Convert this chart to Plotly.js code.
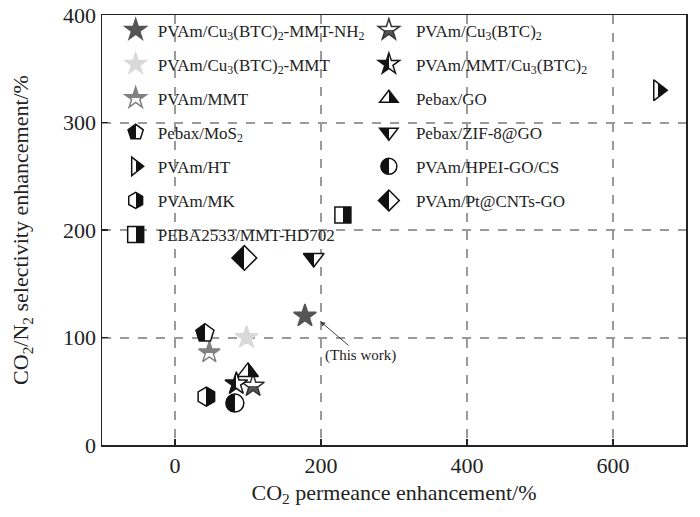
<!DOCTYPE html>
<html><head><meta charset="utf-8">
<script src="https://cdn.plot.ly/plotly-3.0.1.min.js"></script>
<style>body{margin:0;background:#fff}#chart{width:700px;height:517px}</style>
</head><body><div id="chart"></div>
<script>
// ---- data ----
const names = [
  "PVAm/Cu<sub>3</sub>(BTC)<sub>2</sub>-MMT-NH<sub>2</sub>",
  "PVAm/Cu<sub>3</sub>(BTC)<sub>2</sub>-MMT",
  "PVAm/MMT",
  "Pebax/MoS<sub>2</sub>",
  "PVAm/HT",
  "PVAm/MK",
  "PEBA2533/MMT-HD702",
  "PVAm/Cu<sub>3</sub>(BTC)<sub>2</sub>",
  "PVAm/MMT/Cu<sub>3</sub>(BTC)<sub>2</sub>",
  "Pebax/GO",
  "Pebax/ZIF-8@GO",
  "PVAm/HPEI-GO/CS",
  "PVAm/Pt@CNTs-GO"
];
const co2Permeance = [178, 98, 47, 41, 662, 43, 230, 107, 84, 100, 190, 82, 95];
const co2n2Selectivity = [120, 100, 86, 104, 330, 45, 214, 55, 57, 68, 174, 39, 174];
const xTicks = [0, 200, 400, 600];
const yTicks = [0, 100, 200, 300, 400];

// ---- styles ----
const symbols = ["star","star","star","pentagon","triangle-right","hexagon","square",
                 "star","star","triangle-up","triangle-down","circle","diamond"];
// fill split: 'none' solid, 'h' = left|right, 'v' = top|bottom
const splits = ["none","none","v","h","h","h","h","v","h","h","h","h","h"];
const colorA = ["#555555","#d9d9d9","#808080","#111111","#ffffff","#ffffff","#ffffff","#ffffff","#151515","#ffffff","#111111","#111111","#111111"]; // left / top
const colorB = ["#555555","#d9d9d9","#ffffff","#ffffff","#111111","#111111","#111111","#555555","#ffffff","#111111","#ffffff","#ffffff","#ffffff"]; // right / bottom
const lineColors = ["#555555","#d9d9d9","#808080","#111","#111","#111","#111","#333333","#151515","#111","#111","#111","#111"];
const sizes = [17,17,16,19,18,19,16,17,17,18,18,18,19];
const FONT = "Liberation Serif, Times New Roman, serif";

const traces = names.map((n, i) => {
  const marker = {symbol: symbols[i], size: sizes[i], line: {color: lineColors[i], width: 1.5}, color: colorA[i]};
  if (splits[i] === 'h') marker.gradient = {type: 'horizontal', color: colorB[i]};
  if (splits[i] === 'v') marker.gradient = {type: 'vertical', color: colorB[i]};
  return {
    type: 'scatter', mode: 'markers', name: n,
    x: [co2Permeance[i]], y: [co2n2Selectivity[i]],
    marker: marker,
    legend: i < 7 ? 'legend' : 'legend2',
    legendgroup: 'g' + i,
    cliponaxis: false
  };
});

const gridStyle = {showgrid: true, gridcolor: '#9a9a9a', gridwidth: 2, griddash: 'dash'};
const legendCommon = {bgcolor: 'rgba(0,0,0,0)', font: {family: FONT, size: 17, color: '#222'},
                      tracegroupgap: 9, xanchor: 'left', yanchor: 'top', itemsizing: 'trace'};

const layout = {
  width: 700, height: 517,
  margin: {l: 102, r: 14, t: 12, b: 72},
  paper_bgcolor: '#fff', plot_bgcolor: '#fff',
  font: {family: FONT, color: '#222'},
  showlegend: true,
  xaxis: Object.assign({
    range: [-100, 700], tickvals: xTicks, ticktext: xTicks.map(String),
    ticks: 'inside', ticklen: 6, tickcolor: '#222', tickwidth: 1.5,
    showline: true, linecolor: '#222', linewidth: 1.5, mirror: true, zeroline: false,
    tickfont: {family: FONT, size: 22, color: '#222'},
    title: {text: 'CO<sub>2</sub> permeance enhancement/%', font: {family: FONT, size: 22, color: '#222'}, standoff: 7}
  }, gridStyle),
  yaxis: Object.assign({
    range: [0, 400], tickvals: yTicks, ticktext: yTicks.map(String),
    ticks: 'inside', ticklen: 6, tickcolor: '#222', tickwidth: 1.5,
    showline: true, linecolor: '#222', linewidth: 1.5, mirror: true, zeroline: false,
    tickfont: {family: FONT, size: 22, color: '#222'},
    title: {text: 'CO<sub>2</sub>/N<sub>2</sub> selectivity enhancement/%', font: {family: FONT, size: 22, color: '#222'}, standoff: 28}
  }, gridStyle),
  legend: Object.assign({x: 0.02, y: 1.006, itemwidth: 34}, legendCommon),
  legend2: Object.assign({x: 0.445, y: 1.006, itemwidth: 44}, legendCommon),
  annotations: [{
    x: 199, y: 115, xref: 'x', yref: 'y',
    text: '(This work)', showarrow: true, arrowhead: 2, arrowsize: 1, arrowwidth: 1,
    arrowcolor: '#444', ax: 40, ay: 34,
    font: {family: FONT, size: 15, color: '#222'}
  }]
};

function num(v, d) {
  if (v === null || v === '') return d;
  return String(v).indexOf('%') >= 0 ? parseFloat(v) / 100 : parseFloat(v);
}

Plotly.newPlot('chart', traces, layout, {displayModeBar: false, staticPlot: true}).then(() => {
  // turn each gradient into a sharp two-colour fill split at the marker centre
  const boxFor = {};
  document.querySelectorAll('#chart path').forEach(p => {
    const fill = (p.getAttribute('style') || '') + ' ' + (p.getAttribute('fill') || '');
    const m = fill.match(/url\(["']?#([^"')]+)/);
    if (!m) return;
    try { const bb = p.getBBox(); if (bb.width > 0) boxFor[m[1]] = bb; } catch (e) {}
  });
  document.querySelectorAll('#chart linearGradient').forEach(g => {
    const stops = g.querySelectorAll('stop');
    if (stops.length < 2) return;
    const x1 = num(g.getAttribute('x1'), 0), x2 = num(g.getAttribute('x2'), 1);
    const y1 = num(g.getAttribute('y1'), 0), y2 = num(g.getAttribute('y2'), 0);
    const bb = boxFor[g.id];
    let split = 0.5;
    if (bb) {
      if (x1 !== x2) { split = -bb.x / bb.width; if (x1 > x2) split = 1 - split; }
      else { split = -bb.y / bb.height; if (y1 > y2) split = 1 - split; }
      split = Math.min(0.9, Math.max(0.1, split));
    }
    const a = stops[0], b = stops[stops.length - 1];
    const ca = a.getAttribute('stop-color'), cb = b.getAttribute('stop-color');
    const oa = a.getAttribute('stop-opacity'), ob = b.getAttribute('stop-opacity');
    while (g.firstChild) g.removeChild(g.firstChild);
    const ns = 'http://www.w3.org/2000/svg';
    [[0, ca, oa], [split, ca, oa], [split, cb, ob], [1, cb, ob]].forEach(([o, c, op]) => {
      const s = document.createElementNS(ns, 'stop');
      s.setAttribute('offset', (o * 100).toFixed(2) + '%');
      s.setAttribute('stop-color', c);
      if (op !== null) s.setAttribute('stop-opacity', op);
      g.appendChild(s);
    });
  });
});
</script>
</body></html>
